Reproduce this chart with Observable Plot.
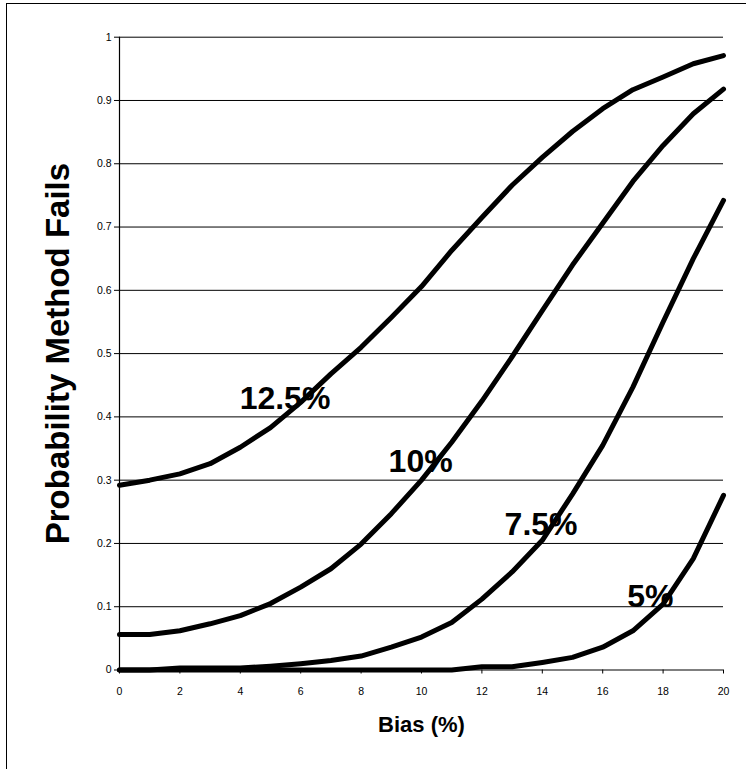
<!DOCTYPE html>
<html>
<head>
<meta charset="utf-8">
<script src="https://cdn.jsdelivr.net/npm/d3@7"></script>
<script src="https://cdn.jsdelivr.net/npm/@observablehq/plot@0.6"></script>
<style>
  html, body { margin: 0; padding: 0; background: #fff; overflow: hidden; }
  #wrap { position: relative; width: 746px; height: 769px; }
  #frame { position: absolute; left: 6px; top: 3px; width: 900px; height: 900px; border: 1px solid #000; pointer-events: none; box-sizing: border-box; }
  #chart { position: absolute; left: 0; top: 0; }
</style>
</head>
<body>
<div id="wrap"><div id="chart"></div><div id="frame"></div></div>
<script>
// ---- data ----
const bias = [0,1,2,3,4,5,6,7,8,9,10,11,12,13,14,15,16,17,18,19,20];
const p125 = [0.292,0.30,0.31,0.326,0.352,0.383,0.423,0.468,0.51,0.557,0.606,0.663,0.715,0.766,0.81,0.851,0.887,0.917,0.937,0.958,0.971];
const p10  = [0.056,0.056,0.062,0.073,0.086,0.105,0.131,0.160,0.199,0.247,0.30,0.36,0.425,0.495,0.568,0.64,0.706,0.772,0.829,0.879,0.918];
const p75  = [0,0,0.003,0.003,0.003,0.006,0.01,0.015,0.022,0.036,0.052,0.075,0.112,0.155,0.205,0.278,0.355,0.447,0.55,0.65,0.742];
const p5   = [0,0,0,0,0,0,0,0,0,0,0,0,0.005,0.005,0.012,0.02,0.036,0.062,0.104,0.176,0.276];
const seriesNames = ["12.5%","10%","7.5%","5%"];
const seriesValues = [p125, p10, p75, p5];
const labelX = [5.48, 9.97, 13.96, 17.58];
const labelY = [0.429, 0.329, 0.230, 0.116];
const xTicks = [0,2,4,6,8,10,12,14,16,18,20];
const yTicks = [0,0.1,0.2,0.3,0.4,0.5,0.6,0.7,0.8,0.9,1];
const xTitle = "Bias (%)";
const yTitle = "Probability Method Fails";

// ---- build tables ----
const rows = seriesNames.flatMap((name, i) =>
  bias.map((b, j) => ({series: name, bias: b, p: seriesValues[i][j]})));
const labels = seriesNames.map((name, i) => ({name, x: labelX[i], y: labelY[i]}));

const font = "'Liberation Sans', Arial, sans-serif";

const chart = Plot.plot({
  width: 746,
  height: 769,
  marginLeft: 119,
  marginRight: 23,
  marginTop: 36.7,
  marginBottom: 99.5,
  style: {fontFamily: font, background: "#fff", color: "#000", overflow: "visible"},
  x: {domain: [0, 20]},
  y: {domain: [0, 1]},
  marks: [
    Plot.ruleY(yTicks.filter(d => d > 0), {stroke: "#000", strokeWidth: 1}),
    Plot.ruleX([0], {stroke: "#000", strokeWidth: 1.2}),
    Plot.ruleY([0], {stroke: "#000", strokeWidth: 1.2}),
    Plot.axisY({ticks: yTicks, tickSize: 5, tickPadding: 3, fontSize: 10.5,
      tickFormat: d => d3.format("~g")(+d.toFixed(2)), label: null}),
    Plot.axisX({ticks: xTicks, tickSize: 4, tickPadding: 14, fontSize: 10.5,
      tickFormat: d => String(d), label: null}),
    Plot.line(rows, {x: "bias", y: "p", z: "series", stroke: "#000", strokeWidth: 5,
      strokeLinecap: "round", strokeLinejoin: "round"}),
    Plot.text(labels, {x: "x", y: "y", text: "name", fontSize: 32, fontWeight: "bold", fill: "#000"}),
    Plot.text([xTitle], {frameAnchor: "bottom", dy: 62, lineAnchor: "bottom",
      fontSize: 22, fontWeight: "bold", fill: "#000"}),
    Plot.text([yTitle], {frameAnchor: "left", dx: -51, rotate: -90, lineAnchor: "bottom",
      textAnchor: "middle", fontSize: 33, fontWeight: "bold", fill: "#000"})
  ]
});
document.getElementById("chart").appendChild(chart);
</script>
</body>
</html>
